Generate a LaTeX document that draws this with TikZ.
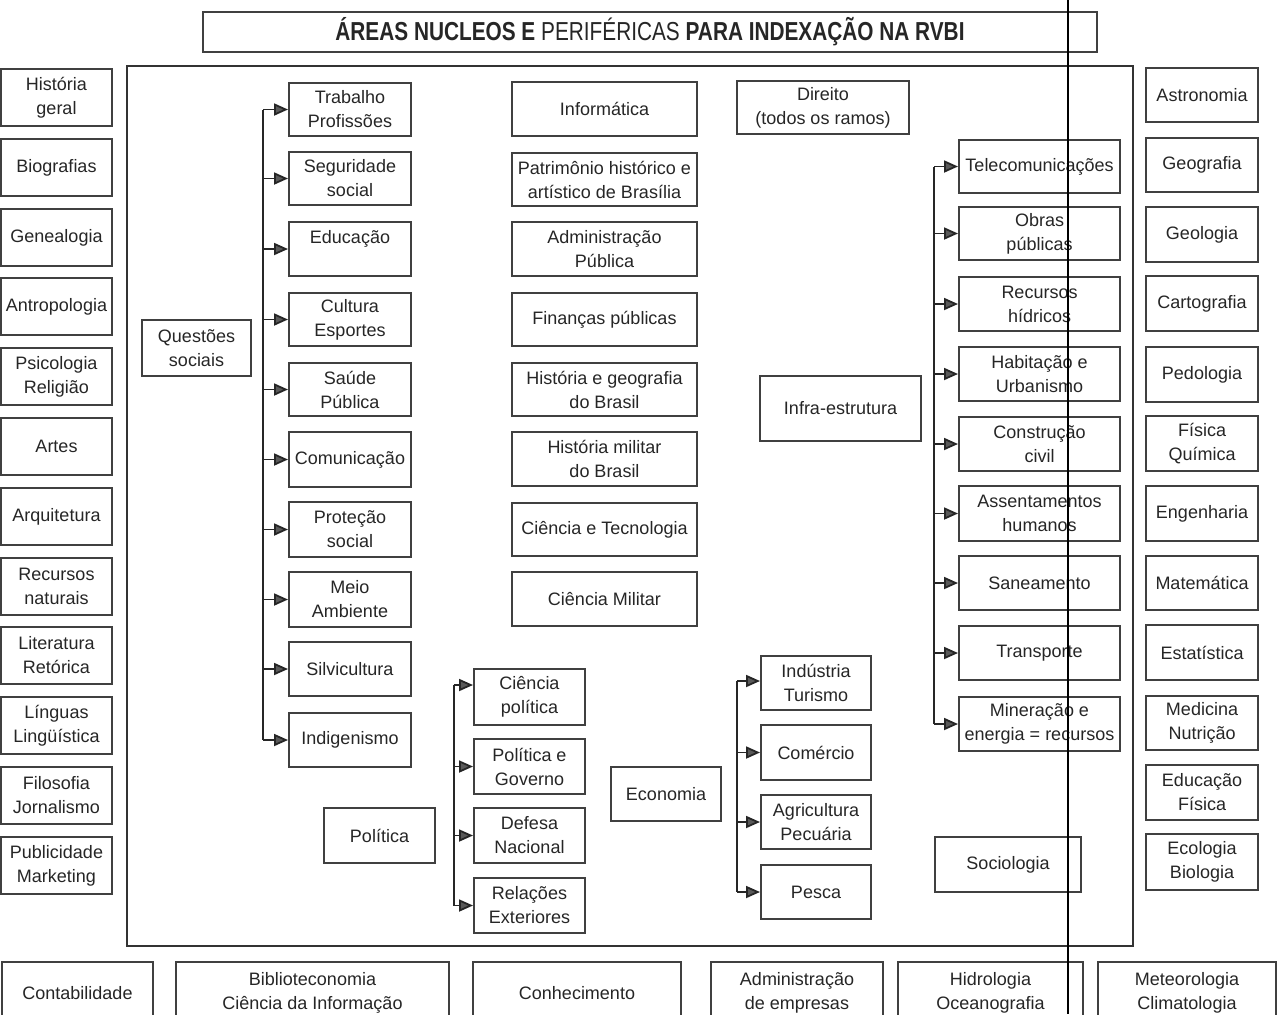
\documentclass[tikz,border=0pt]{standalone}
\usepackage{fontspec}
\usepackage{graphicx}
\setmainfont{Liberation Sans}
\usetikzlibrary{arrows.meta,calc}
\tikzset{
  box/.style={draw=black!75, line width=1pt, inner sep=0pt, align=center,
    font=\fontsize{9}{12}\selectfont, text=black!85},
  link/.style={draw=black!85, line width=0.9pt},
  arr/.style={link, -{Triangle[length=7pt,width=6pt,fill=black!65]}},
  frame/.style={draw=black!80, line width=1.1pt},
  scanline/.style={draw=black, line width=0.7pt},
}
\newcommand{\bx}[6]{\node[box, minimum width={(#4-#2)*0.5pt}, minimum height={(#5-#3)*0.5pt}] (#1) at ({(#2+#4)/2},{(#3+#5)/2}) {#6};}
\begin{document}
\begin{tikzpicture}[x=0.5pt,y=-0.5pt]
\clip (0,0) rectangle (1279,1014);
\fill[white] (0,0) rectangle (1279,1014);

% title
\node[box, minimum width=447pt, minimum height=20pt] (title) at (650,32)
  {\scalebox{0.80}[1]{\fontsize{13}{15}\selectfont\bfseries ÁREAS NUCLEOS E \mdseries PERIFÉRICAS \bfseries PARA INDEXAÇÃO NA RVBI}};

% main frame
\node[frame, minimum width=503pt, minimum height=440pt, inner sep=0pt] (frame) at (630,506) {};

% left column
\bx{l1}{1}{69}{112}{126}{História\\geral}
\bx{l2}{1}{139}{112}{196}{Biografias}
\bx{l3}{1}{209}{112}{266}{Genealogia}
\bx{l4}{1}{278}{112}{335}{Antropologia}
\bx{l5}{1}{348}{112}{405}{Psicologia\\Religião}
\bx{l6}{1}{418}{112}{475}{Artes}
\bx{l7}{1}{488}{112}{545}{Arquitetura}
\bx{l8}{1}{558}{112}{615}{Recursos\\naturais}
\bx{l9}{1}{627}{112}{684}{Literatura\\Retórica}
\bx{l10}{1}{697}{112}{754}{Línguas\\Lingüística}
\bx{l11}{1}{767}{112}{824}{Filosofia\\Jornalismo}
\bx{l12}{1}{837}{112}{894}{Publicidade\\Marketing}

% right column
\bx{r1}{1146}{68}{1258}{122}{Astronomia}
\bx{r2}{1146}{138}{1258}{192}{Geografia}
\bx{r3}{1146}{207}{1258}{262}{Geologia}
\bx{r4}{1146}{276}{1258}{331}{Cartografia}
\bx{r5}{1146}{347}{1258}{402}{Pedologia}
\bx{r6}{1146}{416}{1258}{471}{Física\\Química}
\bx{r7}{1146}{486}{1258}{541}{Engenharia}
\bx{r8}{1146}{556}{1258}{610}{Matemática}
\bx{r9}{1146}{625}{1258}{680}{Estatística}
\bx{r10}{1146}{696}{1258}{750}{Medicina\\Nutrição}
\bx{r11}{1146}{765}{1258}{820}{Educação\\Física}
\bx{r12}{1146}{834}{1258}{890}{Ecologia\\Biologia}

% questoes sociais
\bx{qs}{142}{320}{251}{376}{Questões\\sociais}
\bx{q1}{289}{83}{411}{136}{Trabalho\\Profissões}
\bx{q2}{289}{152}{411}{205}{Seguridade\\social}
\bx{q3}{289}{222}{411}{276}{Educação\\\mbox{}}
\bx{q4}{289}{293}{411}{346}{Cultura\\Esportes}
\bx{q5}{289}{363}{411}{416}{Saúde\\Pública}
\bx{q6}{289}{432}{411}{487}{Comunicação}
\bx{q7}{289}{502}{411}{557}{Proteção\\social}
\bx{q8}{289}{572}{411}{627}{Meio\\Ambiente}
\bx{q9}{289}{642}{411}{696}{Silvicultura}
\bx{q10}{289}{713}{411}{767}{Indigenismo}
\draw[link] ($(q1.west)+(-25,0)$) -- ($(q10.west)+(-25,0)$);
\foreach \nm in {q1,q2,q3,q4,q5,q6,q7,q8,q9,q10}
  \draw[arr] ($(\nm.west)+(-25,0)$) -- (\nm.west);

% middle column
\bx{m1}{512}{82}{697}{136}{Informática}
\bx{m2}{512}{153}{697}{206}{Patrimônio histórico e\\artístico de Brasília}
\bx{m3}{512}{222}{697}{276}{Administração\\Pública}
\bx{m4}{512}{293}{697}{346}{Finanças públicas}
\bx{m5}{512}{363}{697}{416}{História e geografia\\do Brasil}
\bx{m6}{512}{432}{697}{486}{História militar\\do Brasil}
\bx{m7}{512}{503}{697}{556}{Ciência e Tecnologia}
\bx{m8}{512}{572}{697}{626}{Ciência Militar}
\bx{dir}{737}{81}{909}{134}{Direito\\(todos os ramos)}

% infra-estrutura
\bx{inf}{760}{376}{921}{441}{Infra-estrutura}
\bx{i1}{959}{140}{1120}{193}{Telecomunicações}
\bx{i2}{959}{207}{1120}{260}{Obras\\públicas}
\bx{i3}{959}{277}{1120}{331}{Recursos\\hídricos}
\bx{i4}{959}{347}{1120}{401}{Habitação e\\Urbanismo}
\bx{i5}{959}{417}{1120}{471}{Construção\\civil}
\bx{i6}{959}{486}{1120}{541}{Assentamentos\\humanos}
\bx{i7}{959}{556}{1120}{610}{Saneamento}
\bx{i8}{959}{626}{1120}{680}{Transporte}
\bx{i9}{959}{697}{1120}{751}{Mineração e\\energia = recursos}
\draw[link] ($(i1.west)+(-24,0)$) -- ($(i9.west)+(-24,0)$);
\foreach \nm in {i1,i2,i3,i4,i5,i6,i7,i8,i9}
  \draw[arr] ($(\nm.west)+(-24,0)$) -- (\nm.west);

% politica
\bx{pol}{324}{808}{435}{863}{Política}
\bx{p1}{474}{669}{585}{725}{Ciência\\política}
\bx{p2}{474}{739}{585}{794}{Política e\\Governo}
\bx{p3}{474}{808}{585}{863}{Defesa\\Nacional}
\bx{p4}{474}{878}{585}{933}{Relações\\Exteriores}
\draw[link] ($(p1.west)+(-19,-12)$) -- ($(p4.west)+(-19,0)$);
\draw[arr] ($(p1.west)+(-19,-12)$) -- ($(p1.west)+(0,-12)$);
\foreach \nm in {p2,p3,p4}
  \draw[arr] ($(\nm.west)+(-19,0)$) -- (\nm.west);

% economia
\bx{eco}{611}{767}{721}{821}{Economia}
\bx{e1}{761}{656}{871}{710}{Indústria\\Turismo}
\bx{e2}{761}{725}{871}{780}{Comércio}
\bx{e3}{761}{795}{871}{849}{Agricultura\\Pecuária}
\bx{e4}{761}{865}{871}{919}{Pesca}
\draw[link] ($(e1.west)+(-23,-2)$) -- ($(e4.west)+(-23,0)$);
\draw[arr] ($(e1.west)+(-23,-2)$) -- ($(e1.west)+(0,-2)$);
\foreach \nm in {e2,e3,e4}
  \draw[arr] ($(\nm.west)+(-23,0)$) -- (\nm.west);

\bx{soc}{935}{837}{1081}{892}{Sociologia}

% bottom row
\bx{b1}{2}{962}{153}{1024}{Contabilidade}
\bx{b2}{176}{962}{449}{1024}{Biblioteconomia\\Ciência da Informação}
\bx{b3}{473}{962}{681}{1024}{Conhecimento}
\bx{b4}{711}{962}{883}{1024}{Administração\\de empresas}
\bx{b5}{898}{962}{1083}{1024}{Hidrologia\\Oceanografia}
\bx{b6}{1098}{962}{1276}{1024}{Meteorologia\\Climatologia}

% scan line
\coordinate (st) at (1068,0);
\coordinate (sb) at (1068,1014);
\draw[scanline] (st) -- (sb);
\end{tikzpicture}
\end{document}
